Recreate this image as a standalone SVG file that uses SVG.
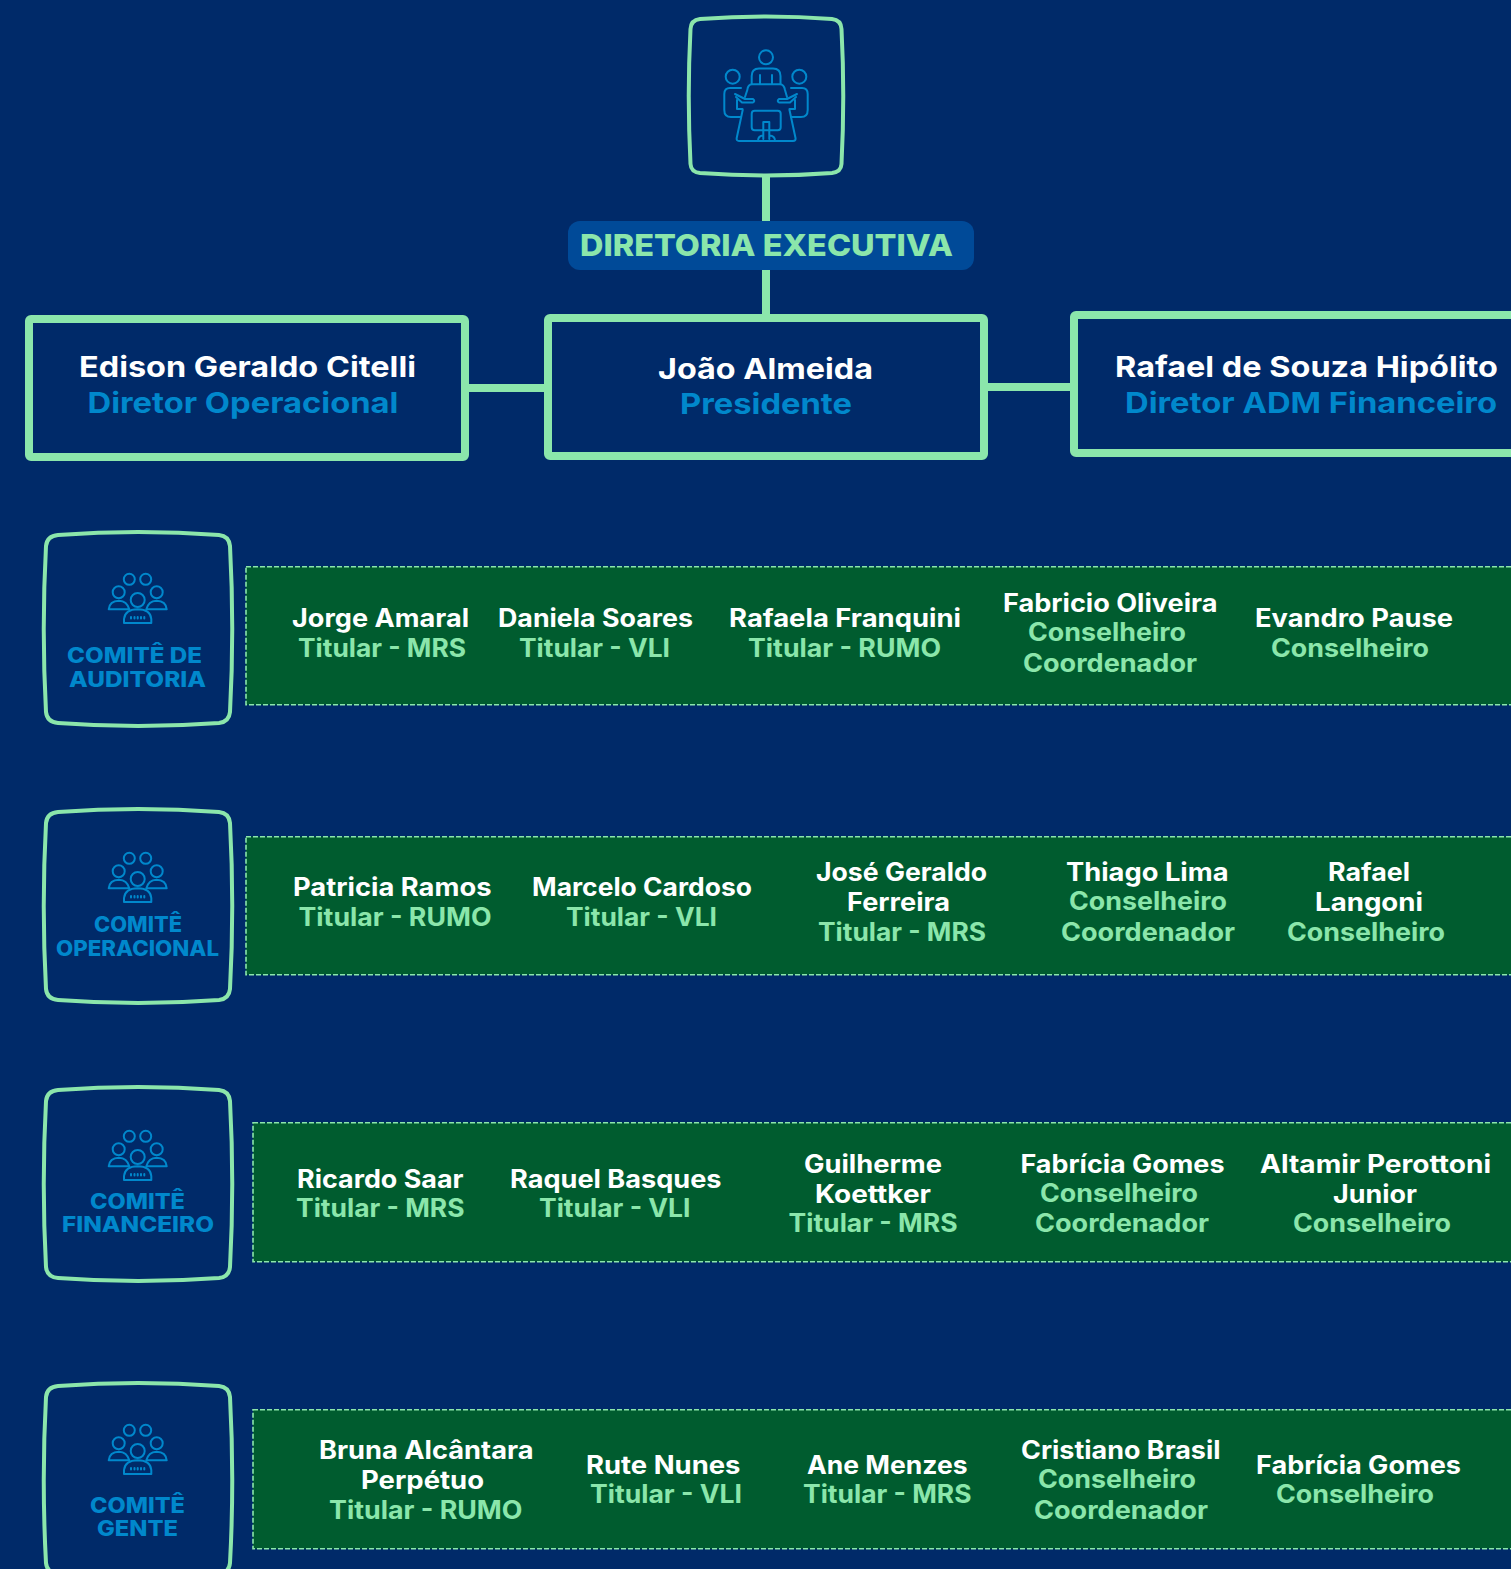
<svg xmlns="http://www.w3.org/2000/svg" width="1511" height="1569" viewBox="0 0 1511 1569">
<style>
text{font-family:"Inter","Liberation Sans",sans-serif;font-weight:700}
.n{font-size:25px;fill:#fff}
.r{font-size:25px;fill:#8be6ab}
.tn{font-size:29px;fill:#fff}
.tr{font-size:29px;fill:#0088cc}
.c{font-size:21.500px;fill:#0088cc;font-weight:800}
.h{font-size:30px;fill:#8be6ab;font-weight:800}
.box{fill:#002a69;stroke:#8be6ab;stroke-width:8;stroke-linejoin:round}
.sq{fill:#002a69;stroke:#8be6ab;stroke-width:4}
.panel{fill:#005c2f;stroke:#8be6ab;stroke-width:1.600;stroke-dasharray:5 2}
.ic{fill:none;stroke:#0088cc;stroke-width:2;stroke-linejoin:round;stroke-linecap:round}
.conn{stroke:#8be6ab;stroke-width:8;fill:none}
</style>
<defs>
<path id="sqc" d="M58,535 Q138,529 219,535 Q229,536 230,546 Q234.500,629 230,712 Q229,722 219,723 Q138,729 58,723 Q47,722 46,712 Q41.500,629 46,546 Q47,536 58,535Z"/>
<g id="grp" class="ic">
<circle cx="129.300" cy="579.300" r="5.500"/><circle cx="145.700" cy="579.300" r="5.500"/>
<circle cx="118.700" cy="592.300" r="6"/><circle cx="156.700" cy="592.300" r="6"/>
<circle cx="137.700" cy="600" r="7"/>
<path d="M108.700,609.300 Q109.500,601 119,600.700 Q127,601 129.300,609.300Z"/>
<path d="M146.300,609.300 Q148.500,601 156.500,600.700 Q166,601 166.700,609.300Z"/>
<path d="M124,623 V619 Q125,609.500 137.700,609.300 Q150.500,609.500 151.300,619 V623Z"/>
<path d="M131,617 V618.500 M134.500,617 V618.500 M137.700,617 V618.500 M141,617 V618.500 M144.300,617 V618.500"/>
</g>
<g id="side">
<circle cx="732.700" cy="76.700" r="7"/>
<path d="M741,88 H730 Q724.300,88 724.300,94 V110 Q724.300,117 731,117 H741"/>
<path d="M735,94 L745,99 H753 Q755.500,101 753,102.500 H742 L736,97"/>
<path d="M737,100 V109 H742.500"/>
</g>
</defs>
<rect width="1511" height="1569" fill="#002a69"/>
<g id="connectors">
<path class="conn" d="M766,174V224M766,268V318M465,388H548M984,387H1073"/>
</g>
<g id="node-diretoria-icon">
<path class="sq" d="M700,19 Q766,14 832,19 Q841,20 841.500,29 Q845,96 841.500,164 Q841,172 832,173 Q766,178 700,173 Q691,172 690.500,164 Q687,96 690.500,29 Q691,20 700,19Z"/>
<g class="ic">
<circle cx="766" cy="57.300" r="7"/>
<path d="M751.700,84 V76 Q751.700,68.500 759,68.500 H773 Q780.500,68.500 780.500,76 V84 M760,75 V84 M772,75 V84"/>
<path d="M747.300,90 Q748,84.300 752,84.300 H780 Q784,84.300 785,90 L787,97 M747.300,90 L745,97 M742.700,110 L736.700,138 Q736.300,141 739,141 H793 Q796,141 795.500,138 L789.500,110"/>
<rect x="751.700" y="110.700" width="29" height="19.500" rx="3"/>
<path d="M763.300,130 V122 H769.300 V130 M763.300,130 V139 M769.300,130 V139 M758,141 Q758,135.500 763.300,135.500 M775,141 Q775,135.500 769.300,135.500"/>
<use href="#side"/>
<use href="#side" transform="matrix(-1 0 0 1 1532 0)"/>
</g>
</g>
<g id="node-diretoria-label">
<rect x="568" y="221" width="406" height="49" rx="12" fill="#004a98"/>
<text class="h" x="580" y="256" textLength="373" lengthAdjust="spacingAndGlyphs">DIRETORIA EXECUTIVA</text>
</g>
<g id="node-edison">
<rect class="box" x="29" y="319" width="436" height="138" rx="2"/>
<text class="tn" x="79" y="377" textLength="337" lengthAdjust="spacingAndGlyphs">Edison Geraldo Citelli</text>
<text class="tr" x="87.500" y="413" textLength="311" lengthAdjust="spacingAndGlyphs">Diretor Operacional</text>
</g>
<g id="node-joao">
<rect class="box" x="548" y="318" width="436" height="138" rx="2"/>
<text class="tn" x="658" y="379" textLength="215" lengthAdjust="spacingAndGlyphs">João Almeida</text>
<text class="tr" x="680" y="414" textLength="172" lengthAdjust="spacingAndGlyphs">Presidente</text>
</g>
<g id="node-rafael">
<rect class="box" x="1074" y="315" width="460" height="138" rx="2"/>
<text class="tn" x="1115" y="377" textLength="383" lengthAdjust="spacingAndGlyphs">Rafael de Souza Hipólito</text>
<text class="tr" x="1125" y="413" textLength="372" lengthAdjust="spacingAndGlyphs">Diretor ADM Financeiro</text>
</g>

<g id="node-auditoria">
<use href="#sqc" class="sq"/>
<use href="#grp"/>
<text class="c" x="67" y="663" textLength="135" lengthAdjust="spacingAndGlyphs">COMITÊ DE</text>
<text class="c" x="69" y="687" textLength="137" lengthAdjust="spacingAndGlyphs">AUDITORIA</text>
</g>
<g id="panel-auditoria">
<rect class="panel" x="246" y="566.700" width="1300" height="138"/>
<text class="n" x="292" y="626.500" textLength="177" lengthAdjust="spacingAndGlyphs">Jorge Amaral</text>
<text class="r" x="298" y="657" textLength="168" lengthAdjust="spacingAndGlyphs">Titular - MRS</text>
<text class="n" x="498" y="626.500" textLength="195" lengthAdjust="spacingAndGlyphs">Daniela Soares</text>
<text class="r" x="519" y="657" textLength="151" lengthAdjust="spacingAndGlyphs">Titular - VLI</text>
<text class="n" x="729" y="626.500" textLength="232" lengthAdjust="spacingAndGlyphs">Rafaela Franquini</text>
<text class="r" x="748" y="657" textLength="193" lengthAdjust="spacingAndGlyphs">Titular - RUMO</text>
<text class="n" x="1003" y="611.500" textLength="214.500" lengthAdjust="spacingAndGlyphs">Fabricio Oliveira</text>
<text class="r" x="1028" y="641" textLength="158" lengthAdjust="spacingAndGlyphs">Conselheiro</text>
<text class="r" x="1023" y="672" textLength="174" lengthAdjust="spacingAndGlyphs">Coordenador</text>
<text class="n" x="1255" y="626.500" textLength="198" lengthAdjust="spacingAndGlyphs">Evandro Pause</text>
<text class="r" x="1271" y="657" textLength="158" lengthAdjust="spacingAndGlyphs">Conselheiro</text>
</g>

<g id="node-operacional">
<use href="#sqc" class="sq" y="277"/>
<use href="#grp" y="279"/>
<text class="c" x="94" y="932" textLength="88" lengthAdjust="spacingAndGlyphs">COMITÊ</text>
<text class="c" x="56" y="956" textLength="163" lengthAdjust="spacingAndGlyphs">OPERACIONAL</text>
</g>
<g id="panel-operacional">
<rect class="panel" x="246" y="836.700" width="1300" height="138"/>
<text class="n" x="293" y="895.500" textLength="198.500" lengthAdjust="spacingAndGlyphs">Patricia Ramos</text>
<text class="r" x="298.500" y="926" textLength="193" lengthAdjust="spacingAndGlyphs">Titular - RUMO</text>
<text class="n" x="532" y="895.500" textLength="220" lengthAdjust="spacingAndGlyphs">Marcelo Cardoso</text>
<text class="r" x="566" y="926" textLength="151" lengthAdjust="spacingAndGlyphs">Titular - VLI</text>
<text class="n" x="816" y="880.500" textLength="171" lengthAdjust="spacingAndGlyphs">José Geraldo</text>
<text class="n" x="847" y="910.500" textLength="103" lengthAdjust="spacingAndGlyphs">Ferreira</text>
<text class="r" x="818" y="941" textLength="168" lengthAdjust="spacingAndGlyphs">Titular - MRS</text>
<text class="n" x="1066" y="880.500" textLength="162.500" lengthAdjust="spacingAndGlyphs">Thiago Lima</text>
<text class="r" x="1069" y="910" textLength="158" lengthAdjust="spacingAndGlyphs">Conselheiro</text>
<text class="r" x="1061" y="941" textLength="174" lengthAdjust="spacingAndGlyphs">Coordenador</text>
<text class="n" x="1328" y="880.500" textLength="82" lengthAdjust="spacingAndGlyphs">Rafael</text>
<text class="n" x="1315" y="910.500" textLength="108" lengthAdjust="spacingAndGlyphs">Langoni</text>
<text class="r" x="1287" y="941" textLength="158" lengthAdjust="spacingAndGlyphs">Conselheiro</text>
</g>

<g id="node-financeiro">
<use href="#sqc" class="sq" y="555"/>
<use href="#grp" y="557"/>
<text class="c" x="90" y="1209" textLength="95" lengthAdjust="spacingAndGlyphs">COMITÊ</text>
<text class="c" x="62" y="1232" textLength="152" lengthAdjust="spacingAndGlyphs">FINANCEIRO</text>
</g>
<g id="panel-financeiro">
<rect class="panel" x="253" y="1122.700" width="1300" height="139"/>
<text class="n" x="297" y="1187.500" textLength="166.500" lengthAdjust="spacingAndGlyphs">Ricardo Saar</text>
<text class="r" x="296" y="1217" textLength="168.500" lengthAdjust="spacingAndGlyphs">Titular - MRS</text>
<text class="n" x="510" y="1187.500" textLength="211.500" lengthAdjust="spacingAndGlyphs">Raquel Basques</text>
<text class="r" x="539" y="1217" textLength="151.500" lengthAdjust="spacingAndGlyphs">Titular - VLI</text>
<text class="n" x="804" y="1172.500" textLength="138" lengthAdjust="spacingAndGlyphs">Guilherme</text>
<text class="n" x="815" y="1202.500" textLength="116" lengthAdjust="spacingAndGlyphs">Koettker</text>
<text class="r" x="788.500" y="1232" textLength="169" lengthAdjust="spacingAndGlyphs">Titular - MRS</text>
<text class="n" x="1020.500" y="1172.500" textLength="204" lengthAdjust="spacingAndGlyphs">Fabrícia Gomes</text>
<text class="r" x="1040" y="1202" textLength="158" lengthAdjust="spacingAndGlyphs">Conselheiro</text>
<text class="r" x="1035" y="1232" textLength="174" lengthAdjust="spacingAndGlyphs">Coordenador</text>
<text class="n" x="1260" y="1172.500" textLength="231" lengthAdjust="spacingAndGlyphs">Altamir Perottoni</text>
<text class="n" x="1333" y="1202.500" textLength="84" lengthAdjust="spacingAndGlyphs">Junior</text>
<text class="r" x="1293" y="1232" textLength="158" lengthAdjust="spacingAndGlyphs">Conselheiro</text>
</g>

<g id="node-gente">
<use href="#sqc" class="sq" y="851"/>
<use href="#grp" y="851"/>
<text class="c" x="90" y="1513" textLength="95" lengthAdjust="spacingAndGlyphs">COMITÊ</text>
<text class="c" x="97" y="1536" textLength="81" lengthAdjust="spacingAndGlyphs">GENTE</text>
</g>
<g id="panel-gente">
<rect class="panel" x="253" y="1409.700" width="1300" height="139"/>
<text class="n" x="319" y="1458.500" textLength="214.500" lengthAdjust="spacingAndGlyphs">Bruna Alcântara</text>
<text class="n" x="361" y="1488.500" textLength="123" lengthAdjust="spacingAndGlyphs">Perpétuo</text>
<text class="r" x="329" y="1519" textLength="193.500" lengthAdjust="spacingAndGlyphs">Titular - RUMO</text>
<text class="n" x="586" y="1473.500" textLength="154.500" lengthAdjust="spacingAndGlyphs">Rute Nunes</text>
<text class="r" x="590" y="1503" textLength="152" lengthAdjust="spacingAndGlyphs">Titular - VLI</text>
<text class="n" x="807" y="1473.500" textLength="160.500" lengthAdjust="spacingAndGlyphs">Ane Menzes</text>
<text class="r" x="803" y="1503" textLength="168.500" lengthAdjust="spacingAndGlyphs">Titular - MRS</text>
<text class="n" x="1021" y="1458.500" textLength="199.500" lengthAdjust="spacingAndGlyphs">Cristiano Brasil</text>
<text class="r" x="1038" y="1488" textLength="158" lengthAdjust="spacingAndGlyphs">Conselheiro</text>
<text class="r" x="1034" y="1519" textLength="174" lengthAdjust="spacingAndGlyphs">Coordenador</text>
<text class="n" x="1256" y="1473.500" textLength="205" lengthAdjust="spacingAndGlyphs">Fabrícia Gomes</text>
<text class="r" x="1276" y="1503" textLength="158" lengthAdjust="spacingAndGlyphs">Conselheiro</text>
</g>
</svg>
